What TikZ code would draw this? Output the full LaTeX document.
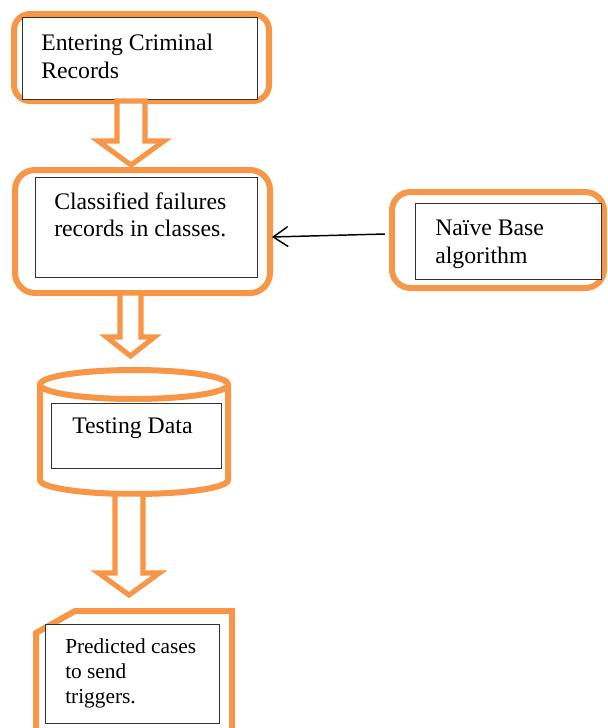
\documentclass[tikz,border=0pt]{standalone}
\usepackage{fontspec}
\setmainfont{Liberation Serif}
\usetikzlibrary{calc,arrows.meta}
\definecolor{orng}{RGB}{247,150,70}
\definecolor{rectgray}{RGB}{50,50,50}
\tikzset{
  obox/.style={draw=orng, line width=4.5pt, fill=white},
  ibox/.style={draw=rectgray, line width=0.8pt, fill=white},
  blk/.style={draw=orng, line width=3.8pt, fill=white, line join=miter},
  txt/.style={anchor=base west, inner sep=0pt, font=\fontsize{17.8}{21}\selectfont},
  stxt/.style={anchor=base west, inner sep=0pt, font=\fontsize{16}{19}\selectfont},
  thin/.style={draw=black, line width=1.1pt, -{Straight Barb[length=11pt,width=15pt,line width=1.1pt]}}
}
\newcommand{\blockarr}[5]{% #1 top, #2 tip, #3 shaft half, #4 head half, #5 head length
  \draw[blk] ($(#1)+(-#3,0)$) -- ($(#2)+(-#3,-#5)$) -- ($(#2)+(-#4,-#5)$) -- (#2)
    -- ($(#2)+(#4,-#5)$) -- ($(#2)+(#3,-#5)$) -- ($(#1)+(#3,0)$) -- cycle;}
\begin{document}
\begin{tikzpicture}[x=0.75pt,y=-0.75pt]
\clip (0,0) rectangle (607,728);
\fill[white] (0,0) rectangle (607,728);

% Box 1
\draw[obox, rounded corners=12pt] (14,14) rectangle (269,101);
\coordinate (o1) at (141.5,57.5);
\node[ibox, inner sep=0pt, minimum width=176.25pt, minimum height=61.5pt, anchor=north west] (b1) at (22,17) {};
\node[txt] (t1a) at (41,50) {Entering Criminal};
\node[txt] (t1b) at (41,78) {Records};

% Arrow 1
\coordinate (a1s) at (131,101);
\coordinate (a1t) at (131,165);
\blockarr{a1s}{a1t}{14}{33}{24}

% Box 2
\draw[obox, rounded corners=15pt] (15,170) rectangle (270,293);
\coordinate (o2e) at (272,237);
\node[ibox, inner sep=0pt, minimum width=166.5pt, minimum height=75pt, anchor=north west] (b2) at (35,177) {};
\node[txt] (t2a) at (54,209) {Classified failures};
\node[txt] (t2b) at (54,236) {records in classes.};

% Naive box
\draw[obox, rounded corners=14pt] (392,192) rectangle (604,288);
\coordinate (o3w) at (385,234);
\node[ibox, inner sep=0pt, minimum width=139.5pt, minimum height=57pt, anchor=north west] (b3) at (415,203) {};
\node[txt] (t3a) at (435,235) {Naïve Base};
\node[txt] (t3b) at (435,263) {algorithm};

\draw[thin] (o3w) -- (o2e);

% Arrow 2
\coordinate (a2s) at (130.5,293);
\coordinate (a2t) at (130.5,356);
\blockarr{a2s}{a2t}{10.5}{24}{19}

% Cylinder
\draw[obox] (40,384.5) -- (40,480) arc[start angle=180, end angle=0, x radius=94, y radius=14] -- (228,384.5);
\draw[obox] (134,384.5) ellipse [x radius=94, y radius=14.5];
\node[ibox, inner sep=0pt, minimum width=127.5pt, minimum height=48.75pt, anchor=north west] (b4) at (51,403) {};
\node[txt] (t4) at (72,433) {Testing Data};

% Arrow 3
\coordinate (a3s) at (129,494);
\coordinate (a3t) at (129,595);
\blockarr{a3s}{a3t}{14}{30.5}{22}

% Predicted
\draw[obox, fill=white, line join=miter] (36,740) -- (36,633) -- (75,611) -- (232,611) -- (232,740);
\node[ibox, inner sep=0pt, minimum width=130.5pt, minimum height=74.25pt, anchor=north west] (b5) at (45,624) {};
\node[stxt] (t5a) at (65,653) {Predicted cases};
\node[stxt] (t5b) at (65,678) {to send};
\node[stxt] (t5c) at (65,703) {triggers.};
\end{tikzpicture}
\end{document}
